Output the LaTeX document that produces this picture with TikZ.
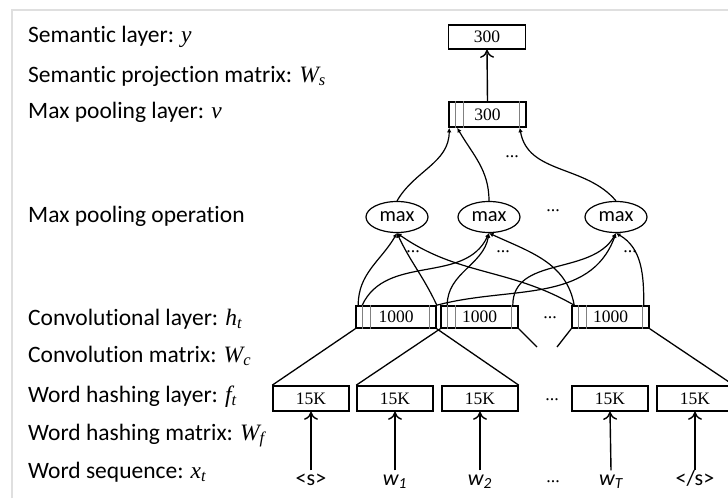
\documentclass[tikz,border=0pt]{standalone}
\usepackage{fontspec}
\setmainfont{Carlito}[Ligatures=CommonOff]
\newfontfamily\tnr{Liberation Serif}
\usetikzlibrary{arrows.meta, shapes.geometric}

\tikzset{
  layer/.style={draw, line width=1.6pt, minimum height=24, inner sep=0pt,
    font=\tnr\fontsize{17.5}{17}\selectfont},
  maxop/.style={draw, ellipse, line width=1.2pt, minimum width=62,
    minimum height=31, inner sep=0pt, font=\fontsize{20.5}{20}\selectfont},
  lab/.style={anchor=base west, inner sep=0pt, font=\fontsize{23.5}{23}\selectfont},
  word/.style={inner sep=2pt, text height=13, text depth=4,
    font=\fontsize{22}{22}\selectfont},
  dots/.style={inner sep=0pt, font=\tnr\fontsize{18}{18}\selectfont},
  link/.style={line width=1.2pt, -{Latex[length=4.5pt,width=4.5pt]}},
  feed/.style={line width=1.4pt, -{To[length=8pt,width=14pt]}},
  sep/.style={gray, line width=0.8pt},
  win/.style={line width=1.3pt},
}

\begin{document}
\begin{tikzpicture}[x=1pt, y=-1pt]
  \useasboundingbox (0,0) rectangle (728,498);
  \draw[gray!25, line width=1.5pt] (12,498) -- (12,10) -- (728,10);

  % layer names
  \node[lab] (l1) at (28,42) {Semantic layer: {\tnr\itshape y}};
  \node[lab] (l2) at (28,82) {Semantic projection matrix: {\tnr\itshape W\textsubscript{s}}};
  \node[lab] (l3) at (28,118) {Max pooling layer: {\tnr\itshape v}};
  \node[lab] (l4) at (28,222) {Max pooling operation};
  \node[lab] (l5) at (28,325) {Convolutional layer: {\tnr\itshape h\textsubscript{t}}};
  \node[lab] (l6) at (28,362) {Convolution matrix: {\tnr\itshape W\textsubscript{c}}};
  \node[lab] (l7) at (28,402) {Word hashing layer: {\tnr\itshape f\textsubscript{t}}};
  \node[lab] (l8) at (28,440) {Word hashing matrix: {\tnr\itshape W\textsubscript{f}}};
  \node[lab] (l9) at (28,478) {Word sequence: {\tnr\itshape x\textsubscript{t}}};

  % semantic and pooling layers
  \node[layer, minimum width=77] (sem) at (487,37) {300};
  \node[layer, minimum width=77, minimum height=25] (pool) at (487.5,114.5) {300};

  % max operations
  \node[maxop] (mx1) at (397,217) {max};
  \node[maxop] (mx2) at (489,217) {max};
  \node[maxop] (mx3) at (616,217) {max};
  \node[dots] (d1) at (512,157) {...};
  \node[dots] (d2) at (553,211) {...};
  \node[dots] (d3) at (413,252) {...};
  \node[dots] (d4) at (503,252) {...};
  \node[dots] (d5) at (630,252) {...};

  % convolutional layer
  \node[layer, minimum width=80, minimum height=22] (cv1) at (396,317) {1000};
  \node[layer, minimum width=77, minimum height=22] (cv2) at (479.5,317) {1000};
  \node[layer, minimum width=77, minimum height=22] (cv3) at (610.5,317) {1000};
  \node[dots] (d6) at (550,318) {...};

  % word hashing layer
  \node[layer, minimum width=76, minimum height=25] (wh1) at (311,398.5) {15K};
  \node[layer, minimum width=76, minimum height=25] (wh2) at (395,398.5) {15K};
  \node[layer, minimum width=76, minimum height=25] (wh3) at (480,398.5) {15K};
  \node[layer, minimum width=76, minimum height=25] (wh4) at (610,398.5) {15K};
  \node[layer, minimum width=76, minimum height=25] (wh5) at (695,398.5) {15K};
  \node[dots] (d7) at (552,400) {...};

  % words
  \node[word] (w0) at (311,481) {<s>};
  \node[word] (w1) at (395,481) {\itshape w\textsubscript{1}};
  \node[word] (w2) at (480,481) {\itshape w\textsubscript{2}};
  \node[word] (wT) at (611,481) {\itshape w\textsubscript{T}};
  \node[word] (w5) at (695,481) {</s>};
  \node[dots] (d8) at (553,482) {...};

  % inner separators
  \foreach \b in {pool,cv1,cv2,cv3} {
    \draw[sep] ([xshift=7]\b.north west) -- ([xshift=7]\b.south west);
    \draw[sep] ([xshift=15]\b.north west) -- ([xshift=15]\b.south west);
    \draw[sep] ([xshift=-7]\b.north east) -- ([xshift=-7]\b.south east);
  }

  % word sequence to word hashing
  \draw[feed] (w0.north) -- (wh1.south);
  \draw[feed] (w1.north) -- (wh2.south);
  \draw[feed] (w2.north) -- (wh3.south);
  \draw[feed] (wT.north) -- (wh4.south);
  \draw[feed] (w5.north) -- (wh5.south);

  % convolution windows
  \coordinate (s1) at (537,347);
  \coordinate (s2) at (557,347);
  \draw[win] (cv1.south west) -- (wh1.north west);
  \draw[win] (cv1.south east) -- (wh3.north east);
  \draw[win] (cv2.south west) -- (wh2.north west);
  \draw[win] (cv2.south east) -- (s1);
  \draw[win] (cv3.south west) -- (s2);
  \draw[win] (cv3.south east) -- (wh5.north east);

  % convolutional layer to max operations
  \draw[link] ([xshift=3]cv1.north west) to[out=90, in=-120] (mx1.south);
  \draw[link] ([xshift=7]cv1.north west) to[out=65, in=-115] (mx2.south);
  \draw[link] (cv1.north east) to[out=115, in=-65] (mx1.south);
  \draw[link] ([xshift=3]cv3.north west) to[out=150, in=-35] (mx1.south);
  \draw[link] ([xshift=7]cv2.north west) to[out=90, in=-100] (mx2.south);
  \draw[link] ([xshift=3]cv3.north west) to[out=100, in=-25] (mx2.south);
  \draw[link] (cv1.north east) to[out=15, in=-110] (mx3.south);
  \draw[link] ([xshift=-6]cv2.north east) to[out=90, in=-120] (mx3.south);
  \draw[link] ([xshift=-6]cv3.north east) to[out=90, in=-30] (mx3.south);

  % max operations to pooling layer
  \draw[link] (mx1.north) to[out=60, in=-90] ([xshift=1]pool.south west);
  \draw[link] (mx2.north) to[out=90, in=-60] ([xshift=9]pool.south west);
  \draw[link] (mx3.north) to[out=130, in=-80] ([xshift=-7]pool.south east);

  \draw[feed] (pool.north) -- (sem.south);
\end{tikzpicture}
\end{document}
